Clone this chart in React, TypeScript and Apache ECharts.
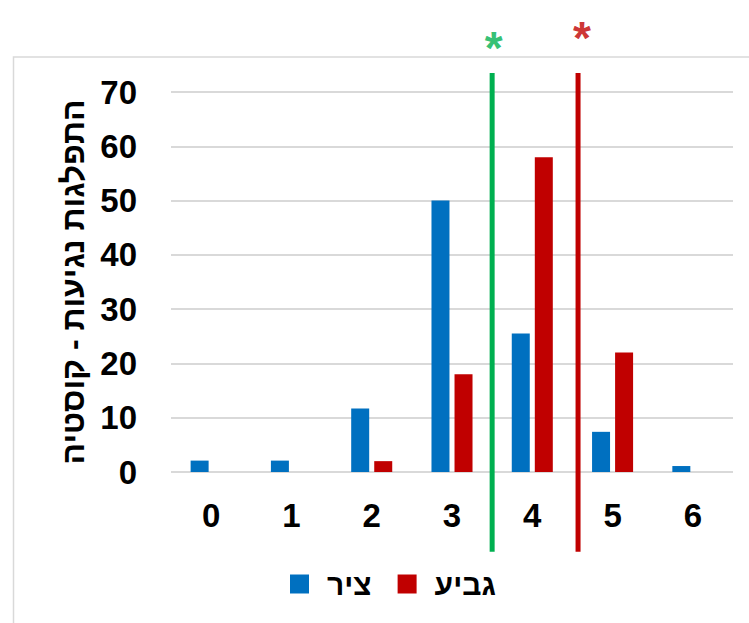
import React, { useEffect, useRef } from "react";
import * as echarts from "echarts";

// Categories along the x axis
const categories = ["0", "1", "2", "3", "4", "5", "6"];
// Series names (legend)
const seriesNames = ["ציר", "גביע"];
// Percent distribution per category
const tzirValues = [2.1, 2.1, 11.7, 50, 25.5, 7.4, 1.1];
const gaviaValues = [0, 0, 2, 18, 58, 22, 0];
// Marker positions on the continuous x scale (category index units)
const greenMarkX = 3.5;
const redMarkX = 4.57;
const yTitle = "התפלגות נגיעות - קוסטיה";

const FONT = "'Liberation Sans', Arial, sans-serif";
const BLUE = "#0070C0";
const RED = "#C00000";
const GREEN = "#00B050";

export default function App() {
  const ref = useRef<HTMLDivElement>(null);

  useEffect(() => {
    if (!ref.current) return;
    const chart = echarts.init(ref.current, null, { renderer: "svg" });
    chart.setOption({
      animation: false,
      backgroundColor: "#ffffff",
      graphic: [
        {
          type: "rect",
          shape: { x: 13.5, y: 57, width: 800, height: 700 },
          style: { fill: "none", stroke: "#d9d9d9", lineWidth: 1.5 },
          silent: true,
          z: -10,
        },
      ],
      legend: {
        data: seriesNames,
        left: 285,
        top: 564,
        itemWidth: 19,
        itemHeight: 19,
        itemGap: 26,
        icon: "rect",
        textStyle: {
          fontFamily: FONT,
          fontWeight: "bold",
          fontSize: 30,
          color: "#000",
          padding: [0, 0, 0, 13],
        },
      },
      grid: { left: 171, right: 16, top: 92, bottom: 151 },
      xAxis: [
        {
          type: "category",
          data: categories,
          axisLine: { show: false },
          axisTick: { show: false },
          axisLabel: {
            fontFamily: FONT,
            fontWeight: "bold",
            fontSize: 33,
            color: "#000",
            margin: 27,
          },
        },
        {
          type: "value",
          min: -0.5,
          max: 6.5,
          show: false,
        },
      ],
      yAxis: {
        type: "value",
        min: 0,
        max: 70,
        interval: 10,
        name: yTitle,
        nameLocation: "middle",
        nameGap: 80,
        nameRotate: 90,
        nameTextStyle: {
          fontFamily: FONT,
          fontWeight: "bold",
          fontSize: 32,
          color: "#000",
        },
        axisLine: { show: false },
        axisTick: { show: false },
        axisLabel: {
          fontFamily: FONT,
          fontWeight: "bold",
          fontSize: 33,
          color: "#000",
          margin: 34,
        },
        splitLine: { lineStyle: { color: "#d9d9d9", width: 2 } },
      },
      series: [
        {
          name: seriesNames[0],
          type: "bar",
          data: tzirValues,
          barWidth: 18,
          barGap: "28%",
          itemStyle: { color: BLUE },
        },
        {
          name: seriesNames[1],
          type: "bar",
          data: gaviaValues,
          barWidth: 18,
          barGap: "28%",
          itemStyle: { color: RED },
        },
        {
          type: "line",
          xAxisIndex: 1,
          data: [
            [greenMarkX, -14.7],
            [greenMarkX, 73.5],
          ],
          clip: false,
          symbol: "none",
          lineStyle: { color: GREEN, width: 5 },
          silent: true,
        },
        {
          type: "line",
          xAxisIndex: 1,
          data: [
            [redMarkX, -14.7],
            [redMarkX, 73.5],
          ],
          clip: false,
          symbol: "none",
          lineStyle: { color: RED, width: 5 },
          silent: true,
        },
        {
          type: "scatter",
          xAxisIndex: 1,
          clip: false,
          symbolSize: 0,
          silent: true,
          data: [
            { value: [greenMarkX + 0.02, 79.2], label: { color: GREEN } },
            { value: [redMarkX + 0.05, 81.1], label: { color: RED } },
          ],
          label: {
            show: true,
            position: "inside",
            formatter: "*",
            fontFamily: FONT,
            fontWeight: "bold",
            fontSize: 46,
            offset: [0, 6],
          },
        },
      ],
    });
    return () => chart.dispose();
  }, []);

  return (
    <div
      ref={ref}
      style={{ position: "absolute", left: 0, top: 0, width: 749, height: 623 }}
    />
  );
}
